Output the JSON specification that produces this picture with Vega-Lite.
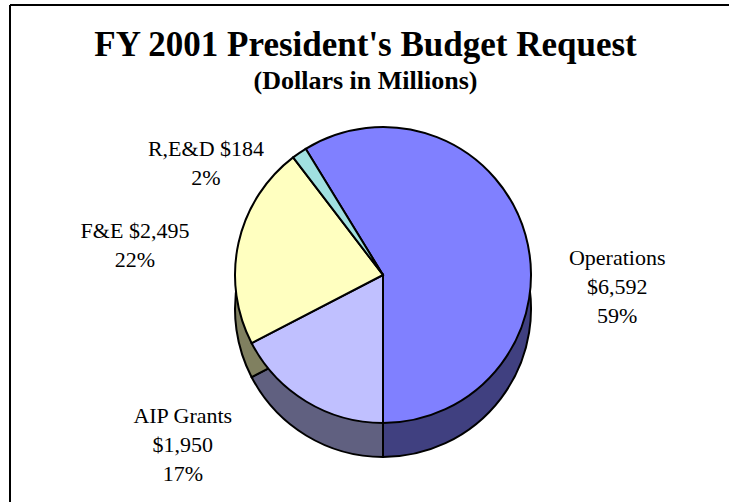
{
  "$schema": "https://vega.github.io/schema/vega-lite/v6.json",
  "width": 719,
  "height": 497,
  "autosize": {"type": "none"},
  "padding": {"left": 10, "top": 5, "right": 0, "bottom": 0},
  "background": "white",
  "view": {"stroke": "black", "strokeWidth": 2, "fill": "white", "strokeDash": [719, 1216, 497, 0]},
  "config": {"font": "Liberation Serif"},
  "title": {
    "text": "FY 2001 President's Budget Request",
    "subtitle": "(Dollars in Millions)",
    "font": "Liberation Serif",
    "fontSize": 35,
    "fontWeight": "bold",
    "color": "black",
    "subtitleFont": "Liberation Serif",
    "subtitleFontSize": 26,
    "subtitleFontWeight": "bold",
    "subtitleColor": "black",
    "subtitlePadding": 5,
    "anchor": "middle",
    "frame": "group",
    "offset": 0,
    "dx": -4,
    "dy": 100
  },
  "data": {
    "values": [
      {"name": "Operations", "amount": 6592, "seq": 1, "label": "Operations\n$6,592\n59%"},
      {"name": "AIP Grants", "amount": 1950, "seq": 2, "label": "AIP Grants\n$1,950\n17%"},
      {"name": "F&E", "amount": 2495, "seq": 3, "label": "F&E $2,495\n22%"},
      {"name": "R,E&D", "amount": 184, "seq": 4, "label": "R,E&D $184\n2%"}
    ]
  },
  "resolve": {"scale": {"color": "independent"}},
  "layer": [
    {
      "mark": {"type": "arc", "radius": 148, "stroke": "black", "strokeWidth": 2, "xOffset": 13.5, "yOffset": 55.5},
      "encoding": {
        "theta": {"field": "amount", "type": "quantitative", "stack": true, "scale": {"range": [-0.5496, 5.7336]}},
        "order": {"field": "seq", "type": "quantitative"},
        "color": {"field": "name", "type": "nominal", "legend": null,
          "scale": {"domain": ["Operations", "AIP Grants", "F&E", "R,E&D"], "range": ["#404080", "#606080", "#808060", "#508080"]}}
      }
    },
    {
      "mark": {"type": "arc", "radius": 148, "stroke": "black", "strokeWidth": 2, "xOffset": 13.5, "yOffset": 21.5},
      "encoding": {
        "theta": {"field": "amount", "type": "quantitative", "stack": true},
        "order": {"field": "seq", "type": "quantitative"},
        "color": {"field": "name", "type": "nominal", "legend": null,
          "scale": {"domain": ["Operations", "AIP Grants", "F&E", "R,E&D"], "range": ["#8080FF", "#C0C0FF", "#FFFFC0", "#A0E0E0"]}}
      }
    },
    {
      "mark": {"type": "text", "radius": 235, "xOffset": 13.5, "yOffset": 21.5, "dx": 8, "dy": 54, "fontSize": 22, "lineBreak": "\n", "lineHeight": 29, "align": "center", "baseline": "alphabetic", "font": "Liberation Serif", "color": "black"},
      "encoding": {
        "theta": {"field": "amount", "type": "quantitative", "stack": true},
        "order": {"field": "seq", "type": "quantitative"},
        "text": {"condition": {"test": "datum.name === 'Operations'", "field": "label"}, "value": ""}
      }
    },
    {
      "mark": {"type": "text", "radius": 245, "xOffset": 13.5, "yOffset": 21.5, "dx": -73, "dy": -61, "fontSize": 22, "lineBreak": "\n", "lineHeight": 29, "align": "center", "baseline": "alphabetic", "font": "Liberation Serif", "color": "black"},
      "encoding": {
        "theta": {"field": "amount", "type": "quantitative", "stack": true},
        "order": {"field": "seq", "type": "quantitative"},
        "text": {"condition": {"test": "datum.name === 'AIP Grants'", "field": "label"}, "value": ""}
      }
    },
    {
      "mark": {"type": "text", "radius": 250, "xOffset": 13.5, "yOffset": 21.5, "dx": -4, "dy": 17, "fontSize": 22, "lineBreak": "\n", "lineHeight": 29, "align": "center", "baseline": "alphabetic", "font": "Liberation Serif", "color": "black"},
      "encoding": {
        "theta": {"field": "amount", "type": "quantitative", "stack": true},
        "order": {"field": "seq", "type": "quantitative"},
        "text": {"condition": {"test": "datum.name === 'F&E'", "field": "label"}, "value": ""}
      }
    },
    {
      "mark": {"type": "text", "radius": 214, "xOffset": 13.5, "yOffset": 21.5, "dx": -56, "dy": 57, "fontSize": 22, "lineBreak": "\n", "lineHeight": 29, "align": "center", "baseline": "alphabetic", "font": "Liberation Serif", "color": "black"},
      "encoding": {
        "theta": {"field": "amount", "type": "quantitative", "stack": true},
        "order": {"field": "seq", "type": "quantitative"},
        "text": {"condition": {"test": "datum.name === 'R,E&D'", "field": "label"}, "value": ""}
      }
    }
  ]
}
